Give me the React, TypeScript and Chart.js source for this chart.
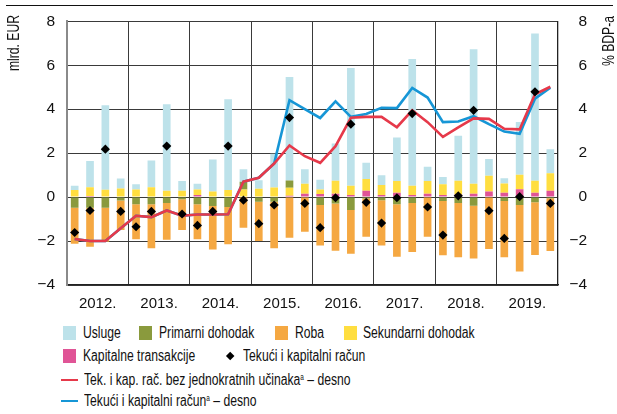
import React, { useEffect, useRef } from 'react';
import { Chart, registerables } from 'chart.js';

Chart.register(...registerables);

const FONT = "'Liberation Sans', Arial, sans-serif";
const NARROW = 0.76;

// Categories (quarters 2012–2019) and year tick labels
const quarters = [
  '2012 Q1', '2012 Q2', '2012 Q3', '2012 Q4',
  '2013 Q1', '2013 Q2', '2013 Q3', '2013 Q4',
  '2014 Q1', '2014 Q2', '2014 Q3', '2014 Q4',
  '2015 Q1', '2015 Q2', '2015 Q3', '2015 Q4',
  '2016 Q1', '2016 Q2', '2016 Q3', '2016 Q4',
  '2017 Q1', '2017 Q2', '2017 Q3', '2017 Q4',
  '2018 Q1', '2018 Q2', '2018 Q3', '2018 Q4',
  '2019 Q1', '2019 Q2', '2019 Q3', '2019 Q4',
];
const years = ['2012.', '2013.', '2014.', '2015.', '2016.', '2017.', '2018.', '2019.'];

// Series values (mlrd. EUR)
const usluge = [
  0.20, 1.19, 3.85, 0.46,
  0.23, 1.22, 3.94, 0.44,
  0.26, 1.45, 4.13, 0.57,
  0.39, 1.53, 4.71, 0.66,
  0.44, 1.70, 5.36, 0.74,
  0.45, 1.98, 5.77, 0.65,
  0.34, 2.05, 6.12, 0.76,
  0.24, 2.40, 6.70, 1.10,
];
const primarniDohodak = [
  -0.48, -0.48, -0.48, -0.15,
  -0.33, -0.32, -0.27, -0.10,
  -0.32, -0.41, -0.45, 0.35,
  -0.21, -0.21, 0.34, 0.00,
  -0.36, -0.29, -0.59, -0.06,
  -0.14, -0.32, -0.27, 0.00,
  -0.18, -0.27, -0.39, 0.00,
  -0.18, -0.36, -0.23, -0.05,
];
const roba = [
  -1.64, -1.78, -1.55, -1.35,
  -1.59, -2.01, -1.67, -1.40,
  -1.60, -1.97, -1.69, -1.39,
  -1.79, -2.12, -1.85, -1.58,
  -1.84, -2.15, -1.99, -1.74,
  -2.06, -2.39, -2.23, -1.80,
  -2.47, -2.47, -2.40, -2.36,
  -2.56, -3.03, -2.41, -2.40,
];
const sekundarniDohodak = [
  0.32, 0.40, 0.33, 0.39,
  0.35, 0.45, 0.29, 0.29,
  0.26, 0.26, 0.32, 0.35,
  0.38, 0.44, 0.36, 0.46,
  0.21, 0.59, 0.42, 0.53,
  0.46, 0.53, 0.42, 0.58,
  0.48, 0.62, 0.46, 0.71,
  0.42, 0.66, 0.54, 0.79,
];
const kapitalneTransakcije = [
  0.00, 0.05, 0.00, 0.00,
  0.00, 0.00, 0.00, 0.00,
  0.09, 0.00, 0.00, 0.00,
  0.00, 0.00, 0.06, 0.15,
  0.14, 0.15, 0.10, 0.29,
  0.09, 0.20, 0.10, 0.15,
  0.10, 0.12, 0.15, 0.26,
  0.20, 0.36, 0.20, 0.29,
];
const tekuciKapitalni = [
  -1.61, -0.61, 2.18, -0.65,
  -1.35, -0.65, 2.32, -0.77,
  -1.29, -0.65, 2.32, -0.14,
  -1.21, -0.36, 3.62, -0.29,
  -1.39, -0.03, 3.32, -0.24,
  -1.18, -0.03, 3.80, -0.45,
  -1.73, 0.06, 3.95, -0.62,
  -1.88, 0.02, 4.79, -0.29,
];
// % BDP-a (right axis)
const bezJednokratnih = [
  -1.91, -2.00, -2.00, -1.42,
  -0.85, -0.91, -0.61, -0.85,
  -0.79, -0.79, -0.78, 0.70,
  0.88, 1.53, 2.35, 1.86,
  1.56, 2.32, 3.61, 3.65,
  3.65, 3.18, 3.95, 3.41,
  2.74, 3.17, 3.58, 3.56,
  3.11, 3.08, 4.68, 5.02,
];
const tekuciKapitalniBdp = [
  -1.91, -2.00, -2.00, -1.42,
  -0.85, -0.91, -0.61, -0.85,
  -0.79, -0.79, -0.78, 0.70,
  0.88, 1.53, 4.41, 4.00,
  3.60, 4.36, 3.65, 3.78,
  4.06, 4.05, 4.97, 4.53,
  3.41, 3.44, 3.68, 3.32,
  2.98, 2.88, 4.48, 4.98,
];

const C_USLUGE = '#bde2ea';
const C_PRIMARNI = '#8a9a3d';
const C_ROBA = '#f5a842';
const C_SEKUNDARNI = '#ffde40';
const C_KAPITALNE = '#e05496';
const C_RED = '#e6394a';
const C_BLUE = '#1696d6';
const TEXT = '#111';

const minus = (v: any) => String(v).replace('-', '\u2212');

const titlesPlugin = {
  id: 'axisTitles',
  afterDraw(chart: any) {
    const ctx = chart.ctx;
    ctx.save();
    ctx.fillStyle = TEXT;
    ctx.font = `16px ${FONT}`;
    ctx.textAlign = 'center';
    ctx.textBaseline = 'middle';
    ctx.save();
    ctx.translate(15, 43);
    ctx.rotate(-Math.PI / 2);
    ctx.scale(NARROW, 1);
    ctx.fillText('mlrd. EUR', 0, 0);
    ctx.restore();
    ctx.save();
    ctx.translate(610, 41);
    ctx.rotate(-Math.PI / 2);
    ctx.scale(NARROW, 1);
    ctx.fillText('% BDP-a', 0, 0);
    ctx.restore();
    ctx.restore();
  },
};

function Swatch({ x, y, color }: { x: number; y: number; color: string }) {
  return <div style={{ position: 'absolute', left: x, top: y - 7, width: 13, height: 14, background: color }} />;
}
function Label({ x, y, children }: { x: number; y: number; children: any }) {
  return (
    <div style={{ position: 'absolute', left: x, top: y - 10, height: 20, lineHeight: '20px', fontSize: 16, fontFamily: FONT, color: TEXT, whiteSpace: 'nowrap', transform: `scaleX(${NARROW})`, transformOrigin: 'left center' }}>
      {children}
    </div>
  );
}
function LineKey({ x, y, color }: { x: number; y: number; color: string }) {
  return <div style={{ position: 'absolute', left: x, top: y - 1.25, width: 17, height: 2.5, background: color }} />;
}
const supStyle = { fontSize: 8.5, verticalAlign: 'top', lineHeight: '14px' } as any;

export default function App() {
  const ref = useRef<HTMLCanvasElement>(null);

  useEffect(() => {
    const canvas = ref.current!;
    const chart = new Chart(canvas, {
      type: 'bar',
      data: {
        labels: quarters,
        datasets: [
          {
            type: 'line',
            label: 'Tekući i kapitalni račun',
            data: tekuciKapitalni,
            showLine: false,
            pointStyle: 'rectRot',
            pointRadius: 4.6,
            pointHoverRadius: 4.6,
            backgroundColor: '#000',
            borderColor: '#000',
            borderWidth: 0,
            yAxisID: 'y',
            xAxisID: 'x',
            stack: 'points',
            order: 0,
          } as any,
          {
            type: 'line',
            label: 'Tek. i kap. rač. bez jednokratnih učinaka – desno',
            data: bezJednokratnih,
            borderColor: C_RED,
            backgroundColor: C_RED,
            borderWidth: 2.6,
            pointRadius: 0,
            tension: 0,
            yAxisID: 'y2',
            xAxisID: 'x',
            order: 1,
          } as any,
          {
            type: 'line',
            label: 'Tekući i kapitalni račun – desno',
            data: tekuciKapitalniBdp,
            borderColor: C_BLUE,
            backgroundColor: C_BLUE,
            borderWidth: 2.6,
            pointRadius: 0,
            tension: 0,
            yAxisID: 'y2',
            xAxisID: 'x',
            order: 2,
          } as any,
          { label: 'Kapitalne transakcije', data: kapitalneTransakcije, backgroundColor: C_KAPITALNE, stack: 'b', order: 3 },
          { label: 'Sekundarni dohodak', data: sekundarniDohodak, backgroundColor: C_SEKUNDARNI, stack: 'b', order: 3 },
          { label: 'Primarni dohodak', data: primarniDohodak, backgroundColor: C_PRIMARNI, stack: 'b', order: 3 },
          { label: 'Roba', data: roba, backgroundColor: C_ROBA, stack: 'b', order: 3 },
          { label: 'Usluge', data: usluge, backgroundColor: C_USLUGE, stack: 'b', order: 3 },
        ].map((d: any) =>
          d.type === 'line'
            ? d
            : { ...d, borderWidth: 0, categoryPercentage: 1, barPercentage: 0.5, yAxisID: 'y', xAxisID: 'x' }
        ),
      },
      options: {
        animation: false,
        responsive: false,
        maintainAspectRatio: false,
        events: [],
        layout: { padding: { top: 21, right: 30, left: 0, bottom: 0 } },
        plugins: { legend: { display: false }, tooltip: { enabled: false } },
        scales: {
          x: {
            type: 'category',
            position: 'bottom',
            stacked: true,
            offset: true,
            ticks: { display: false },
            grid: {
              offset: true,
              drawTicks: false,
              lineWidth: 1,
              color: (ctx: any) => (ctx.index % 4 === 0 && ctx.index > 0 ? '#3a3a3a' : 'rgba(0,0,0,0)'),
            },
            border: { display: true, color: '#222', width: 1.3 },
            afterFit: (s: any) => { s.height = 0; },
          },
          x2: {
            type: 'category',
            position: 'bottom',
            labels: years,
            offset: true,
            grid: { display: false, drawTicks: false },
            border: { display: false },
            ticks: { color: TEXT, font: { family: FONT, size: 15 }, padding: 10, maxRotation: 0, autoSkip: false },
            afterFit: (s: any) => { s.height = 33; },
          },
          y: {
            position: 'left',
            stacked: true,
            min: -4,
            max: 8,
            ticks: { stepSize: 2, color: TEXT, font: { family: FONT, size: 15.5 }, padding: 12, callback: minus },
            grid: { color: '#3a3a3a', lineWidth: 1, drawTicks: false },
            border: { display: true, color: '#8a8a8a', width: 2 },
            afterFit: (s: any) => { s.width = 67; },
          },
          y2: {
            position: 'right',
            stacked: false,
            min: -4,
            max: 8,
            ticks: { stepSize: 2, color: TEXT, font: { family: FONT, size: 15.5 }, padding: 12, crossAlign: 'far', callback: minus },
            grid: { display: false, drawTicks: false },
            border: { display: true, color: '#222', width: 1.3 },
            afterFit: (s: any) => { s.width = 29; },
          },
        },
      } as any,
      plugins: [titlesPlugin],
    });
    return () => chart.destroy();
  }, []);

  return (
    <div style={{ position: 'fixed', left: 0, top: 0, width: 617, height: 414, background: '#fff', overflow: 'hidden' }}>
      <div style={{ position: 'absolute', left: 6, top: 5, width: 607, height: 1.4, background: '#111' }} />
      <canvas ref={ref} width={617} height={318} style={{ position: 'absolute', left: 0, top: 0, width: 617, height: 318, display: 'block' }} />

      <Swatch x={63} y={333} color={C_USLUGE} />
      <Label x={83} y={333}>Usluge</Label>
      <Swatch x={139} y={333} color={C_PRIMARNI} />
      <Label x={159} y={333}>Primarni dohodak</Label>
      <Swatch x={275} y={333} color={C_ROBA} />
      <Label x={295} y={333}>Roba</Label>
      <Swatch x={344} y={333} color={C_SEKUNDARNI} />
      <Label x={363} y={333}>Sekundarni dohodak</Label>

      <Swatch x={63} y={356} color={C_KAPITALNE} />
      <Label x={83} y={356}>Kapitalne transakcije</Label>
      <div style={{ position: 'absolute', left: 230 - 3.2, top: 356 - 3.2, width: 6.4, height: 6.4, background: '#000', transform: 'rotate(45deg)' }} />
      <Label x={243} y={356}>Tekući i kapitalni račun</Label>

      <LineKey x={61} y={380} color={C_RED} />
      <Label x={84} y={380}>
        Tek. i kap. rač. bez jednokratnih učinaka<sup style={supStyle}>a</sup> – desno
      </Label>
      <LineKey x={61} y={401} color={C_BLUE} />
      <Label x={84} y={401}>
        Tekući i kapitalni račun<sup style={supStyle}>a</sup> – desno
      </Label>
    </div>
  );
}
